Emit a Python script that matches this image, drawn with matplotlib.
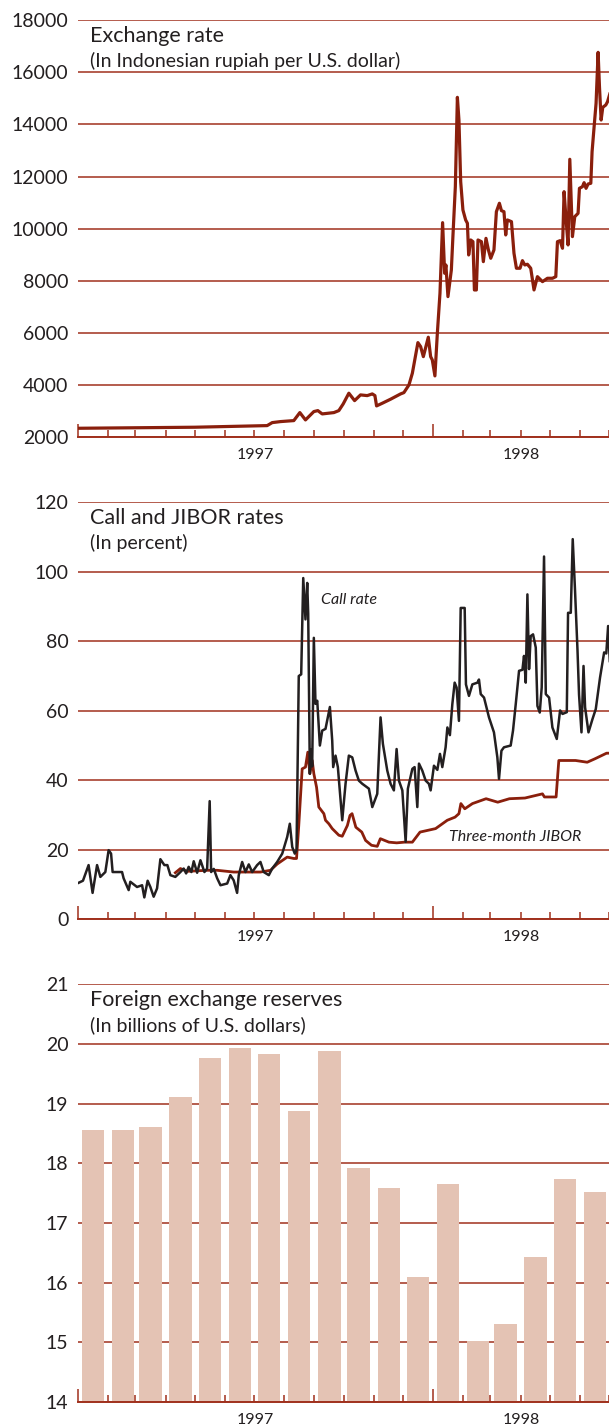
import numpy as np
import pandas as pd
import matplotlib
matplotlib.use("Agg")
import matplotlib.pyplot as plt
import matplotlib.dates as mdates
from matplotlib.transforms import blended_transform_factory

plt.rcParams["font.family"] = ["Lato", "DejaVu Sans"]

START = pd.Timestamp("1997-01-01")
END = pd.Timestamp("1998-07-01")

# days are counted from 1 Jan 1997
xr_day = [0, 120, 194.5, 199.7, 208.2, 221.9, 228.1, 233.9, 242.5, 246.6, 251.1, 263.1,
          268.2, 272.7, 278.5, 284.4, 290.5, 297.4, 302.6, 305.3, 307, 312.9, 321.4,
          331.7, 335.1, 340.3, 343.8, 349.5, 352.3, 355.1, 360.2, 362.6, 364.3, 367,
          369.5, 372.2, 374.9, 377, 378.3, 380.4, 383.9, 385.5, 388, 390.1, 391.7,
          393.5, 395.8, 398.6, 400.4, 401.7, 403.8, 406.1, 407.6, 409.6, 411.3, 414.8,
          416.8, 419.5, 422, 424.4, 427.7, 430.2, 433.3, 435.4, 438, 439.8, 441.5,
          445.7, 448.3, 450.8, 454.5, 457, 459.4, 462.1, 465.5, 468.9, 472.4, 477.6,
          482.7, 487.9, 491.3, 493, 495.7, 498.2, 499.8, 501.9, 503.9, 505.7, 508.4,
          510.8, 514.2, 515.6, 518.7, 520.4, 522.4, 524.5, 527.3, 528.6, 530.7, 532.7,
          534.8, 536.2, 537.9, 539.6, 542.7, 544.5, 546.8]
xr_val = [2350, 2390, 2452, 2567, 2606, 2644, 2951, 2670, 2990, 3027, 2900, 2951,
          3027, 3284, 3694, 3410, 3629, 3602, 3667, 3602, 3207, 3310, 3464,
          3667, 3717, 4012, 4460, 5633, 5480, 5096, 5840, 5096, 4970, 4357,
          5993, 7526, 10232, 8292, 8610, 7396, 8419, 9696, 11611, 15036, 14166,
          11802, 10718, 10335, 10208, 8993, 9568, 9503, 7652, 7652, 9568, 9503,
          8737, 9631, 9185, 8867, 9185, 10653, 10975, 10691, 10653, 9760, 10335,
          10270, 9058, 8484, 8484, 8775, 8610, 8637, 8484, 7652, 8162, 7970,
          8100, 8100, 8162, 9503, 9541, 9250, 11420, 10335, 9377, 12660, 9696,
          10461, 10590, 11548, 11611, 11764, 11548, 11714, 11741, 12952, 13910, 14807,
          16761, 15443, 14166, 14653, 14742, 14868, 15163]

call_day = [0.6, 5.1, 10.9, 15.0, 19.6, 23.0, 28.1, 31.5, 34.0, 35.6, 45.3, 46.9, 52.1,
            53.8, 60.7, 65.9, 68.2, 71.6, 74.4, 77.8, 81.3, 84.7, 88.8, 91.9, 95.0,
            100.1, 105.3, 108.7, 111.2, 113.8, 116.6, 119.0, 122.5, 125.9, 130.0,
            132.8, 135.4, 136.9, 139.6, 143.1, 146.5, 153.4, 156.7, 160.1, 163.6,
            165.3, 168.8, 172.2, 175.6, 179.1, 184.2, 187.6, 191.0, 196.2, 199.7,
            204.8, 210.0, 215.1, 217.8, 220.3, 222.9, 224.7, 227.0, 229.5, 231.6,
            233.9, 235.7, 236.7, 238.4, 239.8, 240.8, 242.5, 244.2, 246.0, 248.7,
            251.1, 254.5, 259.0, 261.4, 262.4, 264.8, 267.2, 271.7, 275.1, 278.5,
            282.0, 285.4, 288.8, 292.3, 299.1, 302.6, 307.7, 311.1, 313.5, 318.0,
            321.4, 324.8, 327.6, 330.0, 333.5, 336.9, 339.2, 343.8, 346.1, 348.9,
            350.6, 354.0, 357.5, 360.8, 362.6, 366.0, 369.5, 372.2, 374.6, 378.0,
            379.8, 382.4, 384.9, 387.3, 389.3, 391.7, 393.5, 397.6, 398.9, 402.0,
            405.5, 410.7, 412.3, 414.1, 417.5, 422.6, 427.7, 431.2, 432.9, 435.4,
            438.0, 444.9, 447.3, 450.1, 453.5, 457.0, 458.6, 460.4, 462.1, 463.8,
            465.5, 467.9, 470.7, 472.4, 474.8, 476.8, 479.2, 481.0, 484.4, 487.8,
            492.3, 495.7, 498.2, 502.6, 503.9, 506.7, 508.7, 511.1, 513.6, 515.2,
            517.7, 519.8, 521.4, 524.9, 529.0, 532.4, 536.8, 541.0, 543.2, 545.1, 546.8]
call_val = [10.5, 11.1, 15.6, 7.6, 15.6, 12.2, 13.6, 19.9, 18.9, 13.6, 13.6, 11.8, 8.4,
            10.8, 9.3, 9.8, 6.3, 11.1, 9.3, 6.5, 8.9, 17.3, 15.6, 15.6, 12.7,
            12.2, 13.6, 14.6, 13.2, 15.1, 13.6, 16.7, 13.4, 17.0, 13.6,
            14.6, 34.0, 13.6, 14.5, 11.8, 9.8, 10.3, 12.7, 11.2, 7.6,
            12.7, 16.5, 13.6, 15.8, 13.6, 15.6, 16.5, 13.6, 12.7, 14.6,
            16.5, 18.9, 23.7, 27.5, 20.8, 18.9, 19.9, 70.0, 70.5, 98.2,
            86.3, 96.8, 88.0, 41.9, 48.9, 44.0, 81.0, 62.0, 62.9, 50.0,
            54.3, 54.8, 61.1, 51.4, 43.8, 47.1, 43.8, 28.5, 39.0, 47.1,
            46.6, 42.8, 39.9, 39.0, 37.6, 32.3, 36.1, 58.1, 50.5, 42.8,
            39.0, 37.1, 49.0, 39.9, 37.1, 22.3, 37.6, 43.3, 43.8, 32.3,
            44.8, 42.8, 39.9, 39.0, 37.1, 44.2, 43.0, 47.6, 43.8, 49.5,
            55.2, 53.0, 61.9, 68.1, 66.7, 57.1, 89.6, 89.6, 67.6, 64.3,
            67.6, 68.1, 69.0, 64.8, 63.8, 58.1, 53.8, 46.6, 40.4, 48.5,
            49.5, 50.0, 54.3, 61.9, 71.5, 71.8, 75.8, 68.1, 93.5, 72.0,
            81.5, 82.0, 78.2, 61.4, 59.5, 66.7, 104.4, 64.8, 63.8, 55.2,
            51.9, 60.1, 59.1, 59.6, 88.2, 88.2, 109.4, 94.4, 77.5, 64.6,
            53.8, 72.9, 61.0, 53.8, 57.6, 60.5, 69.6, 76.8, 76.5, 84.4, 74.3]

jibor_day = [100.1, 105.3, 112.2, 132.8, 143.1, 160.1, 187.6, 197.9, 204.8, 215.1, 221.9,
             224.7, 227.0, 230.5, 233.9, 236.3, 238.4, 240.8, 242.5, 245.3, 247.6,
             252.8, 254.5, 257.9, 261.4, 268.2, 271.7, 277.0, 279.7, 281.8, 285.7,
             291.8, 295.7, 301.8, 307.7, 310.9, 319.7, 327.7, 335.7, 343.8, 351.7,
             359.7, 367.7, 379.7, 387.7, 391.7, 393.7, 397.7, 405.6, 419.6, 431.6,
             443.6, 459.6, 477.6, 479.6, 491.6, 494.4, 511.6, 523.6, 531.6, 543.5, 546.8]
jibor_val = [13.4, 14.6, 13.8, 14.1, 14.1, 13.6, 13.6, 14.1, 15.9, 17.9, 17.5,
             17.5, 27.0, 43.3, 43.8, 48.1, 41.9, 45.7, 41.9, 38.0, 32.3,
             30.4, 28.5, 27.5, 26.1, 24.2, 23.9, 27.0, 29.9, 30.4, 26.5,
             25.1, 22.7, 21.3, 21.0, 23.2, 22.2, 22.0, 22.2, 22.2, 25.1,
             25.6, 26.1, 28.5, 29.4, 30.4, 33.3, 31.8, 33.3, 34.7, 33.7,
             34.7, 34.9, 36.1, 35.2, 35.2, 45.7, 45.7, 45.2, 46.2, 47.8, 47.8]

res_month = pd.date_range("1997-01-01", "1998-06-01", freq="MS")
res_val = [18.56, 18.56, 18.61, 19.11, 19.76, 19.93, 19.83, 18.88, 19.88,
           17.92, 17.59, 16.10, 17.65, 15.03, 15.31, 16.43, 17.73, 17.52]

year_labels = ["1997", "1998"]

RED = "#8a1f0c"
GRID = "#a0301c"
INK = "#231f20"
BAR = "#e4c3b4"


def to_dates(days):
    return START + pd.to_timedelta(np.asarray(days), unit="D")


def style_axis(ax, ymin, ymax, step, title, subtitle):
    ax.set_xlim(START, END)
    ax.set_ylim(ymin, ymax)
    ax.set_yticks(np.arange(ymin, ymax + step / 2, step))
    ax.yaxis.grid(True, color=GRID, lw=1.1)
    ax.set_axisbelow(True)
    for s in ["left", "right", "top"]:
        ax.spines[s].set_visible(False)
    ax.spines["bottom"].set_color(GRID)
    ax.spines["bottom"].set_linewidth(1.4)
    ax.tick_params(axis="y", length=0, pad=7, labelsize=14, labelcolor=INK)
    ax.xaxis.set_major_locator(mdates.YearLocator())
    ax.xaxis.set_minor_locator(mdates.MonthLocator())
    ax.tick_params(axis="x", which="major", direction="in", length=9.5, width=1.1,
                   color=GRID, labelbottom=False)
    ax.tick_params(axis="x", which="minor", direction="in", length=5.3, width=1.1,
                   color=GRID, labelbottom=False)
    tr = blended_transform_factory(ax.transData, ax.transAxes)
    bounds = [START, pd.Timestamp("1998-01-01"), END]
    for i, lab in enumerate(year_labels):
        mid = bounds[i] + (bounds[i + 1] - bounds[i]) / 2
        ax.text(mid, -0.043, lab, transform=tr, ha="center", va="center",
                fontsize=11.5, color=INK)
    ax.text(0.0235, 1 - 16 / 417.5, title, transform=ax.transAxes, fontsize=15.5,
            va="center", color=INK)
    ax.text(0.0235, 1 - 41 / 417.5, subtitle, transform=ax.transAxes, fontsize=14,
            va="center", color=INK)


fig = plt.figure(figsize=(6.09, 14.26), dpi=100)
L, W = 78 / 609, 531 / 609
ax1 = fig.add_axes([L, 1 - 437.4 / 1426, W, 417.4 / 1426])
ax2 = fig.add_axes([L, 1 - 919.3 / 1426, W, 417.0 / 1426])
ax3 = fig.add_axes([L, 1 - 1402 / 1426, W, 417.7 / 1426])

# exchange rate
ax1.plot(to_dates(xr_day), xr_val, color=RED, lw=2.3, solid_joinstyle="round")
style_axis(ax1, 2000, 18000, 2000, "Exchange rate",
           "(In Indonesian rupiah per U.S. dollar)")

# call and JIBOR rates
ax2.plot(to_dates(jibor_day), jibor_val, color=RED, lw=2.0, solid_joinstyle="round")
ax2.plot(to_dates(call_day), call_val, color=INK, lw=1.8, solid_joinstyle="round")
style_axis(ax2, 0, 120, 20, "Call and JIBOR rates", "(In percent)")
ax2.text(to_dates([279])[0], 91.8, "Call rate", style="italic", fontsize=11.5,
         ha="center", va="center", color=INK)
ax2.text(to_dates([450])[0], 23.7, "Three-month JIBOR", style="italic", fontsize=11.5,
         ha="center", va="center", color=INK)

# reserves
ax3.bar(res_month + pd.Timedelta(days=15.5), res_val, width=23, color=BAR, zorder=2)
style_axis(ax3, 14, 21, 1, "Foreign exchange reserves",
           "(In billions of U.S. dollars)")

fig.savefig("out.png", dpi=100)
